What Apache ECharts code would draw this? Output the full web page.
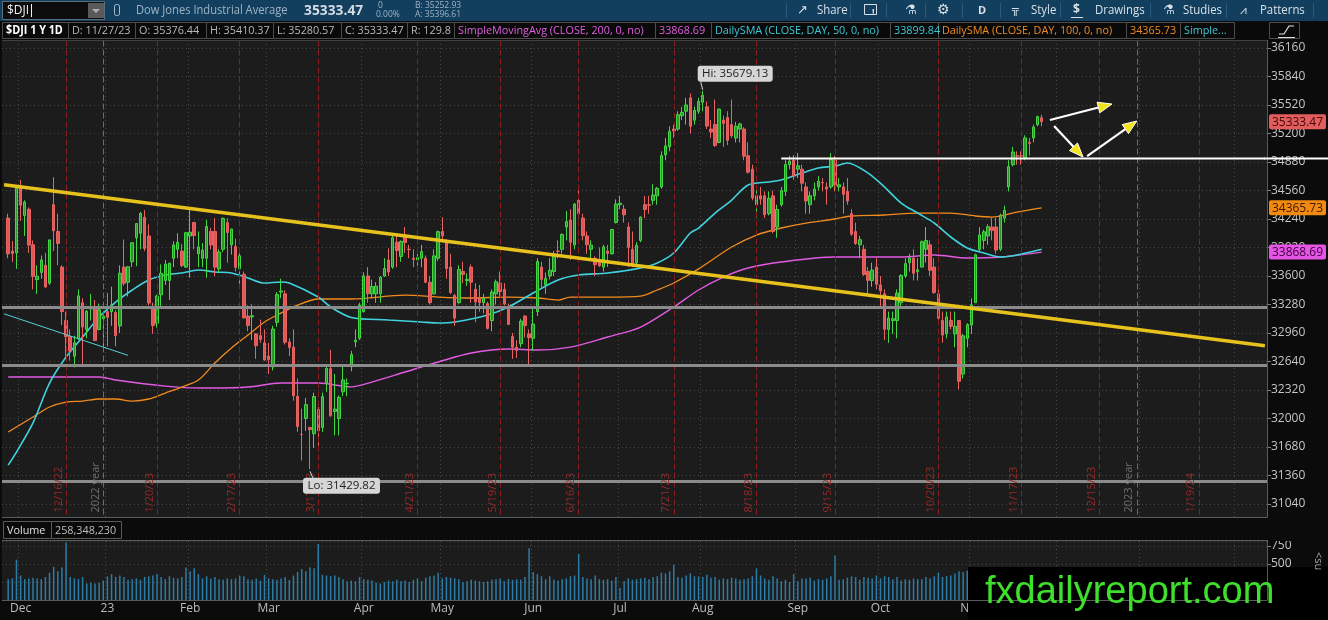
<!DOCTYPE html>
<html>
<head>
<meta charset="utf-8">
<title>$DJI 1 Y 1D</title>
<script src="https://cdn.jsdelivr.net/npm/echarts@6.0.0/dist/echarts.min.js"></script>
<style>
  html, body { margin: 0; padding: 0; background: #0b0b0b; }
  #c1 { width: 1328px; height: 620px; }
</style>
</head>
<body>
<div id="c1"></div>
<script>
var chartDom = document.getElementById("c1");
var myChart = echarts.init(chartDom);

// daily bars: date, open, high, low, close
var candles = [
  ["2022-11-28", 34250, 34300, 33800, 33849], ["2022-11-29", 33880, 33990, 33760, 33853], ["2022-11-30", 33860, 34595, 33680, 34590],
  ["2022-12-01", 34600, 34680, 34220, 34395], ["2022-12-02", 34280, 34450, 34050, 34430], ["2022-12-05", 34350, 34370, 33860, 33947],
  ["2022-12-06", 33950, 34000, 33450, 33597], ["2022-12-07", 33560, 33720, 33400, 33598], ["2022-12-08", 33640, 33830, 33570, 33781],
  ["2022-12-09", 33720, 33860, 33470, 33476], ["2022-12-12", 33520, 34010, 33500, 34005], ["2022-12-13", 34400, 34710, 33880, 34108],
  ["2022-12-14", 34100, 34300, 33720, 33966], ["2022-12-15", 33700, 33720, 33050, 33202], ["2022-12-16", 33100, 33200, 32700, 32920],
  ["2022-12-19", 32920, 33000, 32650, 32757], ["2022-12-20", 32700, 32930, 32573, 32850], ["2022-12-21", 32900, 33450, 32880, 33377],
  ["2022-12-22", 33300, 33350, 32580, 33027], ["2022-12-23", 33000, 33220, 32900, 33204], ["2022-12-27", 33230, 33400, 33100, 33241],
  ["2022-12-28", 33250, 33330, 32870, 32875], ["2022-12-29", 33000, 33290, 32990, 33221], ["2022-12-30", 33120, 33150, 32810, 33147],
  ["2023-01-03", 33200, 33410, 32810, 33136], ["2023-01-04", 33200, 33480, 33040, 33270], ["2023-01-05", 33190, 33220, 32810, 32930],
  ["2023-01-06", 33040, 33720, 32960, 33631], ["2023-01-09", 33700, 34010, 33490, 33518], ["2023-01-10", 33530, 33710, 33370, 33704],
  ["2023-01-11", 33760, 33980, 33700, 33973], ["2023-01-12", 34030, 34190, 33710, 34190], ["2023-01-13", 34080, 34320, 33900, 34303],
  ["2023-01-17", 34260, 34340, 33880, 33910], ["2023-01-18", 34050, 34180, 33270, 33297], ["2023-01-19", 33240, 33300, 32950, 33045],
  ["2023-01-20", 33070, 33390, 33020, 33375], ["2023-01-23", 33390, 33730, 33260, 33630], ["2023-01-24", 33550, 33780, 33500, 33734],
  ["2023-01-25", 33550, 33750, 33330, 33744], ["2023-01-26", 33800, 33990, 33700, 33949], ["2023-01-27", 33900, 34080, 33800, 33978],
  ["2023-01-30", 33880, 33960, 33700, 33717], ["2023-01-31", 33700, 34090, 33690, 34086],
  ["2023-02-01", 34050, 34340, 33580, 34092], ["2023-02-02", 34200, 34210, 33900, 34054], ["2023-02-03", 33850, 34100, 33700, 33926],
  ["2023-02-06", 33800, 33970, 33700, 33891], ["2023-02-07", 33800, 34230, 33580, 34156], ["2023-02-08", 34100, 34140, 33900, 33949],
  ["2023-02-09", 34100, 34250, 33600, 33699], ["2023-02-10", 33680, 33900, 33640, 33869], ["2023-02-13", 33900, 34260, 33870, 34246],
  ["2023-02-14", 34200, 34250, 33750, 34089], ["2023-02-15", 33950, 34130, 33840, 34128], ["2023-02-16", 33930, 34020, 33650, 33697],
  ["2023-02-17", 33680, 33860, 33500, 33827], ["2023-02-21", 33620, 33650, 33120, 33130], ["2023-02-22", 33150, 33270, 32980, 33045],
  ["2023-02-23", 33140, 33280, 32880, 33154], ["2023-02-24", 32950, 32960, 32670, 32817], ["2023-02-27", 32930, 33110, 32850, 32889],
  ["2023-02-28", 32850, 33000, 32650, 32657],
  ["2023-03-01", 32700, 32850, 32500, 32662], ["2023-03-02", 32580, 33040, 32540, 33004], ["2023-03-03", 33080, 33420, 33030, 33391],
  ["2023-03-06", 33420, 33570, 33350, 33432], ["2023-03-07", 33400, 33440, 32830, 32856], ["2023-03-08", 32860, 32900, 32700, 32798],
  ["2023-03-09", 32800, 33000, 32200, 32255], ["2023-03-10", 32250, 32450, 31850, 31910], ["2023-03-13", 31820, 32110, 31530, 31820],
  ["2023-03-14", 32000, 32230, 31860, 32155], ["2023-03-15", 31900, 31900, 31429.82, 31875], ["2023-03-16", 31830, 32290, 31670, 32247],
  ["2023-03-17", 32100, 32130, 31650, 31862], ["2023-03-20", 31900, 32290, 31850, 32245], ["2023-03-21", 32400, 32600, 32300, 32561],
  ["2023-03-22", 32560, 32770, 32020, 32030], ["2023-03-23", 32080, 32500, 31810, 32106], ["2023-03-24", 32000, 32260, 31810, 32238],
  ["2023-03-27", 32300, 32600, 32250, 32433], ["2023-03-28", 32390, 32450, 32250, 32395], ["2023-03-29", 32580, 32760, 32530, 32718],
  ["2023-03-30", 32860, 33000, 32800, 32880], ["2023-03-31", 32900, 33300, 32880, 33274],
  ["2023-04-03", 33200, 33640, 33190, 33601], ["2023-04-04", 33600, 33700, 33300, 33402], ["2023-04-05", 33400, 33560, 33350, 33482],
  ["2023-04-06", 33400, 33530, 33300, 33485], ["2023-04-10", 33400, 33600, 33300, 33587], ["2023-04-11", 33600, 33800, 33590, 33684],
  ["2023-04-12", 33780, 33910, 33600, 33646], ["2023-04-13", 33700, 34050, 33680, 34030], ["2023-04-14", 33980, 34080, 33700, 33886],
  ["2023-04-17", 33820, 34000, 33760, 33987], ["2023-04-18", 34050, 34150, 33860, 33976], ["2023-04-19", 33900, 33950, 33800, 33897],
  ["2023-04-20", 33800, 33900, 33700, 33786], ["2023-04-21", 33780, 33850, 33650, 33809], ["2023-04-24", 33800, 33950, 33700, 33875],
  ["2023-04-25", 33800, 33830, 33520, 33531], ["2023-04-26", 33530, 33600, 33280, 33301], ["2023-04-27", 33400, 33900, 33390, 33826],
  ["2023-04-28", 33800, 34110, 33770, 34098],
  ["2023-05-01", 34100, 34260, 33980, 34051], ["2023-05-02", 34000, 34010, 33570, 33684], ["2023-05-03", 33700, 33850, 33400, 33414],
  ["2023-05-04", 33380, 33400, 33040, 33128], ["2023-05-05", 33300, 33720, 33290, 33674], ["2023-05-08", 33650, 33760, 33520, 33619],
  ["2023-05-09", 33550, 33630, 33490, 33562], ["2023-05-10", 33700, 33730, 33300, 33531], ["2023-05-11", 33450, 33520, 33080, 33309],
  ["2023-05-12", 33350, 33500, 33200, 33301], ["2023-05-15", 33300, 33400, 33180, 33349], ["2023-05-16", 33290, 33310, 33000, 33012],
  ["2023-05-17", 33100, 33450, 32980, 33420], ["2023-05-18", 33400, 33560, 33280, 33535], ["2023-05-19", 33520, 33650, 33360, 33427],
  ["2023-05-22", 33450, 33520, 33270, 33286], ["2023-05-23", 33250, 33290, 33050, 33056], ["2023-05-24", 32920, 32960, 32670, 32800],
  ["2023-05-25", 32800, 32880, 32680, 32765], ["2023-05-26", 32840, 33120, 32800, 33093], ["2023-05-30", 33150, 33160, 32910, 33043],
  ["2023-05-31", 32950, 33000, 32590, 32908],
  ["2023-06-01", 32900, 33250, 32760, 33061], ["2023-06-02", 33200, 33800, 33150, 33763], ["2023-06-05", 33700, 33760, 33470, 33563],
  ["2023-06-06", 33500, 33640, 33400, 33573], ["2023-06-07", 33600, 33800, 33560, 33665], ["2023-06-08", 33650, 33880, 33600, 33834],
  ["2023-06-09", 33880, 34000, 33800, 33877], ["2023-06-12", 33900, 34080, 33850, 34066], ["2023-06-13", 34150, 34330, 34000, 34212],
  ["2023-06-14", 34230, 34350, 33780, 33979], ["2023-06-15", 33950, 34420, 33900, 34408], ["2023-06-16", 34450, 34590, 34250, 34299],
  ["2023-06-20", 34250, 34300, 34000, 34053], ["2023-06-21", 34050, 34100, 33850, 33952], ["2023-06-22", 33900, 34000, 33800, 33947],
  ["2023-06-23", 33800, 33820, 33600, 33727], ["2023-06-26", 33750, 33920, 33700, 33714], ["2023-06-27", 33700, 33950, 33650, 33927],
  ["2023-06-28", 33880, 33950, 33700, 33853], ["2023-06-29", 33850, 34130, 33840, 34122], ["2023-06-30", 34200, 34460, 34190, 34408],
  ["2023-07-03", 34400, 34500, 34350, 34418], ["2023-07-05", 34350, 34400, 34200, 34288], ["2023-07-06", 34150, 34200, 33700, 33922],
  ["2023-07-07", 33900, 34100, 33700, 33734], ["2023-07-10", 33750, 33980, 33700, 33945], ["2023-07-11", 34000, 34270, 33980, 34262],
  ["2023-07-12", 34400, 34500, 34250, 34348], ["2023-07-13", 34400, 34500, 34300, 34395], ["2023-07-14", 34450, 34630, 34400, 34509],
  ["2023-07-17", 34500, 34600, 34400, 34585], ["2023-07-18", 34600, 35000, 34580, 34952], ["2023-07-19", 34960, 35150, 34900, 35061],
  ["2023-07-20", 35050, 35280, 35000, 35225], ["2023-07-21", 35250, 35300, 35150, 35228], ["2023-07-24", 35250, 35450, 35230, 35411],
  ["2023-07-25", 35400, 35500, 35350, 35438], ["2023-07-26", 35450, 35600, 35300, 35520], ["2023-07-27", 35600, 35650, 35200, 35282],
  ["2023-07-28", 35350, 35500, 35300, 35459], ["2023-07-31", 35450, 35600, 35420, 35560],
  ["2023-08-01", 35550, 35679.13, 35450, 35630], ["2023-08-02", 35500, 35560, 35250, 35283], ["2023-08-03", 35250, 35350, 35150, 35216],
  ["2023-08-04", 35300, 35580, 35050, 35066], ["2023-08-07", 35100, 35480, 35090, 35474], ["2023-08-08", 35350, 35400, 35050, 35314],
  ["2023-08-09", 35380, 35450, 35070, 35123], ["2023-08-10", 35300, 35580, 35150, 35176], ["2023-08-11", 35150, 35330, 35100, 35281],
  ["2023-08-14", 35250, 35320, 35100, 35308], ["2023-08-15", 35250, 35270, 34900, 34946], ["2023-08-16", 34950, 35100, 34750, 34766],
  ["2023-08-17", 34800, 34850, 34450, 34475], ["2023-08-18", 34400, 34580, 34250, 34501], ["2023-08-21", 34500, 34600, 34400, 34464],
  ["2023-08-22", 34500, 34550, 34250, 34288], ["2023-08-23", 34300, 34550, 34280, 34473], ["2023-08-24", 34500, 34560, 34080, 34100],
  ["2023-08-25", 34150, 34400, 34030, 34347], ["2023-08-28", 34400, 34600, 34380, 34559], ["2023-08-29", 34550, 34900, 34500, 34852],
  ["2023-08-30", 34850, 34950, 34800, 34891], ["2023-08-31", 34900, 34960, 34680, 34722],
  ["2023-09-01", 34800, 34980, 34700, 34838], ["2023-09-05", 34800, 34850, 34550, 34642], ["2023-09-06", 34600, 34650, 34300, 34443],
  ["2023-09-07", 34400, 34550, 34300, 34501], ["2023-09-08", 34500, 34650, 34450, 34577], ["2023-09-11", 34600, 34720, 34560, 34664],
  ["2023-09-12", 34650, 34700, 34550, 34646], ["2023-09-13", 34600, 34650, 34400, 34576], ["2023-09-14", 34600, 34980, 34580, 34907],
  ["2023-09-15", 34900, 34950, 34550, 34618], ["2023-09-18", 34600, 34700, 34550, 34624], ["2023-09-19", 34600, 34650, 34300, 34518],
  ["2023-09-20", 34550, 34700, 34400, 34441], ["2023-09-21", 34300, 34350, 34050, 34070], ["2023-09-22", 34100, 34200, 33950, 33964],
  ["2023-09-25", 33950, 34050, 33800, 34007], ["2023-09-26", 33900, 33950, 33600, 33619], ["2023-09-27", 33650, 33700, 33400, 33551],
  ["2023-09-28", 33550, 33750, 33480, 33667], ["2023-09-29", 33700, 33800, 33450, 33508],
  ["2023-10-02", 33500, 33600, 33250, 33433], ["2023-10-03", 33400, 33450, 32880, 33002], ["2023-10-04", 33000, 33200, 32850, 33129],
  ["2023-10-05", 33100, 33200, 32950, 33120], ["2023-10-06", 33100, 33450, 32900, 33408], ["2023-10-09", 33300, 33620, 33250, 33605],
  ["2023-10-10", 33600, 33800, 33580, 33739], ["2023-10-11", 33750, 33850, 33650, 33804], ["2023-10-12", 33800, 33900, 33550, 33631],
  ["2023-10-13", 33650, 33800, 33550, 33670], ["2023-10-16", 33700, 34000, 33700, 33985], ["2023-10-17", 33900, 34150, 33750, 33998],
  ["2023-10-18", 33950, 34000, 33600, 33665], ["2023-10-19", 33700, 33800, 33400, 33415], ["2023-10-20", 33400, 33450, 33100, 33127],
  ["2023-10-23", 33100, 33200, 32850, 32937], ["2023-10-24", 32950, 33200, 32900, 33141], ["2023-10-25", 33100, 33200, 33000, 33036],
  ["2023-10-26", 32950, 33200, 32800, 33035], ["2023-10-27", 33100, 33100, 32327, 32418], ["2023-10-30", 32500, 32950, 32450, 32929],
  ["2023-10-31", 32900, 33070, 32800, 33053],
  ["2023-11-01", 33050, 33350, 32950, 33275], ["2023-11-02", 33300, 33850, 33300, 33839], ["2023-11-03", 33900, 34150, 33880, 34061],
  ["2023-11-06", 34000, 34120, 33900, 34096], ["2023-11-07", 34050, 34180, 33950, 34153], ["2023-11-08", 34150, 34250, 34000, 34112],
  ["2023-11-09", 34150, 34250, 33850, 33892], ["2023-11-10", 33900, 34300, 33880, 34283], ["2023-11-13", 34250, 34390, 34200, 34337],
  ["2023-11-14", 34600, 34900, 34550, 34828], ["2023-11-15", 34850, 35050, 34830, 34992], ["2023-11-16", 34950, 35000, 34850, 34946],
  ["2023-11-17", 34950, 35000, 34850, 34947], ["2023-11-20", 34930, 35180, 34900, 35151], ["2023-11-21", 35100, 35150, 34950, 35088],
  ["2023-11-22", 35150, 35300, 35100, 35273], ["2023-11-24", 35300, 35400, 35280, 35390], ["2023-11-27", 35376.44, 35410.37, 35280.57, 35333.47]
];

// volume, millions of shares, same order as candles
var volumes = [
  290, 300, 560,
  340, 290, 300, 310, 300, 290, 320, 380, 460, 400, 450, 800, 320, 300, 290, 320, 230, 240, 230, 240, 270,
  330, 360, 320, 340, 320, 280, 290, 300, 280, 320, 330, 340, 360, 320, 290, 330, 310, 300, 320, 450,
  400, 440, 360, 300, 330, 300, 320, 290, 280, 300, 290, 300, 340, 330, 290, 280, 300, 270, 350,
  300, 290, 280, 300, 320, 280, 340, 390, 430, 400, 450, 440, 780, 350, 340, 330, 340, 320, 290, 260, 270, 260, 320,
  290, 280, 270, 240, 230, 250, 270, 260, 280, 260, 270, 250, 280, 300, 260, 310, 330, 340, 380,
  300, 320, 310, 300, 290, 250, 260, 280, 270, 260, 250, 260, 280, 290, 300, 260, 290, 280, 290, 280, 320, 720,
  390, 360, 330, 290, 330, 280, 270, 290, 300, 330, 340, 640, 320, 300, 290, 340, 290, 280, 290, 270, 320,
  170, 260, 300, 280, 290, 300, 310, 290, 320, 330, 380, 370, 400, 490, 320, 310, 340, 370, 330, 330,
  320, 350, 310, 320, 280, 300, 290, 310, 300, 280, 290, 300, 330, 440, 340, 300, 280, 330, 300, 260, 280, 250, 360,
  260, 300, 300, 310, 270, 290, 280, 300, 330, 620, 280, 290, 310, 330, 320, 280, 320, 310, 300, 340,
  300, 330, 320, 290, 320, 270, 290, 280, 300, 290, 290, 320, 300, 330, 380, 320, 330, 340, 370, 400, 390, 410,
  400, 380, 340, 290, 300, 280, 310, 300, 280, 370, 330, 300, 360, 290, 280, 270, 130, 258
];

// empty slots right of the last bar
var futureDays = [
  "2023-11-28", "2023-11-29", "2023-11-30", "2023-12-01", "2023-12-04", "2023-12-05", "2023-12-06", "2023-12-07", "2023-12-08",
  "2023-12-11", "2023-12-12", "2023-12-13", "2023-12-14", "2023-12-15", "2023-12-18", "2023-12-19", "2023-12-20", "2023-12-21",
  "2023-12-22", "2023-12-26", "2023-12-27", "2023-12-28", "2023-12-29", "2024-01-01", "2024-01-02", "2024-01-03", "2024-01-04",
  "2024-01-05", "2024-01-08", "2024-01-09", "2024-01-10", "2024-01-11", "2024-01-12", "2024-01-15", "2024-01-16", "2024-01-17",
  "2024-01-18", "2024-01-19", "2024-01-22", "2024-01-23", "2024-01-24", "2024-01-25", "2024-01-26", "2024-01-29", "2024-01-30",
  "2024-01-31", "2024-02-01", "2024-02-02", "2024-02-05", "2024-02-06", "2024-02-07", "2024-02-08", "2024-02-09", "2024-02-12"
];

// moving averages
var sma200Pts = [
  ["2022-11-28", 32466], ["2022-12-29", 32466], ["2023-01-05", 32432], ["2023-01-24", 32364], ["2023-02-03", 32342],
  ["2023-02-09", 32342], ["2023-02-22", 32353], ["2023-03-06", 32398], ["2023-03-17", 32398], ["2023-03-29", 32355],
  ["2023-04-05", 32409], ["2023-04-18", 32522], ["2023-04-28", 32634], ["2023-05-10", 32735], ["2023-05-23", 32780],
  ["2023-06-02", 32769], ["2023-06-14", 32802], ["2023-06-28", 32915], ["2023-07-11", 33027], ["2023-07-21", 33252],
  ["2023-07-31", 33443], ["2023-08-08", 33588], ["2023-08-16", 33690], ["2023-08-28", 33757], ["2023-09-15", 33813],
  ["2023-09-27", 33813], ["2023-10-09", 33813], ["2023-10-19", 33836], ["2023-10-31", 33802], ["2023-11-10", 33813],
  ["2023-11-27", 33868.69]
];
var sma50Pts = [
  ["2022-11-28", 31477], ["2022-11-30", 31623], ["2022-12-06", 31950], ["2022-12-12", 32398], ["2022-12-16", 32690],
  ["2022-12-22", 32915], ["2022-12-29", 33140], ["2023-01-05", 33308], ["2023-01-11", 33443], ["2023-01-18", 33555],
  ["2023-01-24", 33611], ["2023-01-30", 33634], ["2023-02-03", 33667], ["2023-02-09", 33645], ["2023-02-15", 33634],
  ["2023-02-22", 33578], ["2023-02-28", 33521], ["2023-03-06", 33533], ["2023-03-08", 33521], ["2023-03-17", 33364],
  ["2023-03-22", 33252], ["2023-03-29", 33135], ["2023-04-12", 33106], ["2023-04-24", 33083], ["2023-04-28", 33072],
  ["2023-05-04", 33083], ["2023-05-16", 33162], ["2023-05-23", 33252], ["2023-06-01", 33409], ["2023-06-09", 33555],
  ["2023-06-16", 33611], ["2023-06-28", 33634], ["2023-07-11", 33690], ["2023-07-17", 33746], ["2023-07-21", 33858],
  ["2023-07-27", 34083], ["2023-07-31", 34139], ["2023-08-04", 34307], ["2023-08-10", 34453], ["2023-08-16", 34622],
  ["2023-08-23", 34656], ["2023-08-28", 34678], ["2023-09-05", 34756], ["2023-09-11", 34812], ["2023-09-15", 34835],
  ["2023-09-20", 34869], ["2023-09-27", 34756], ["2023-10-03", 34599], ["2023-10-09", 34419], ["2023-10-13", 34307],
  ["2023-10-19", 34195], ["2023-10-25", 34038], ["2023-10-31", 33914], ["2023-11-06", 33858], ["2023-11-10", 33813],
  ["2023-11-16", 33836], ["2023-11-27", 33899.84]
];
var sma100Pts = [
  ["2022-11-28", 31848], ["2022-12-06", 32017], ["2022-12-12", 32129], ["2022-12-16", 32185], ["2022-12-22", 32196],
  ["2022-12-29", 32219], ["2023-01-05", 32219], ["2023-01-11", 32196], ["2023-01-18", 32219], ["2023-01-24", 32286],
  ["2023-01-30", 32353], ["2023-02-03", 32432], ["2023-02-09", 32623], ["2023-02-15", 32791], ["2023-02-22", 32937],
  ["2023-02-28", 33083], ["2023-03-06", 33184], ["2023-03-10", 33274], ["2023-03-17", 33342], ["2023-03-29", 33342],
  ["2023-04-18", 33386], ["2023-04-28", 33364], ["2023-05-10", 33353], ["2023-05-23", 33364], ["2023-06-02", 33353],
  ["2023-06-09", 33330], ["2023-06-14", 33364], ["2023-06-28", 33364], ["2023-07-11", 33375], ["2023-07-17", 33443],
  ["2023-07-21", 33521], ["2023-07-31", 33680], ["2023-08-10", 33925], ["2023-08-18", 34060], ["2023-08-28", 34139],
  ["2023-09-06", 34195], ["2023-09-15", 34240], ["2023-09-21", 34274], ["2023-10-03", 34285], ["2023-10-13", 34307],
  ["2023-10-25", 34307], ["2023-11-02", 34274], ["2023-11-08", 34262], ["2023-11-16", 34318], ["2023-11-27", 34365.73]
];

// drawings on the chart
var expiryDays = ["2022-12-16", "2023-01-20", "2023-02-17", "2023-03-17", "2023-04-21", "2023-05-19", "2023-06-16",
  "2023-07-21", "2023-08-18", "2023-09-15", "2023-10-20", "2023-11-17", "2023-12-15", "2024-01-19"];
var yearMarks = [["2022-12-30", "2022 year"], ["2023-12-29", "2023 year"]];
var levelPrices = [33250, 32595, 31292];
var resistance = [["2023-08-28", 34920], ["2024-02-12", 34920]];
var yellowTrend = [["2022-11-25", 34624], ["2024-02-12", 32816]];
var cyanTrend = [["2022-11-25", 33175], ["2023-01-10", 32709]];
var arrows = [
  [["2023-11-29", 35352], ["2023-12-20", 35531]],
  [["2023-11-30", 35284], ["2023-12-11", 34936]],
  [["2023-12-12", 34947], ["2023-12-29", 35340]]
];
var hiMark = ["2023-08-01", 35679.13];
var loMark = ["2023-03-15", 31429.82];
var tagValues = [35333.47, 34365.73, 33868.69];

// header texts
var symbolName = "$DJI";
var quoteTop = ["Dow Jones Industrial Average", "35333.47", "0", "0.00%", "B: 35252.93", "A: 35396.61"];
var quoteCells = ["$DJI 1 Y 1D", "D: 11/27/23", "O: 35376.44", "H: 35410.37", "L: 35280.57", "C: 35333.47", "R: 129.8",
  "SimpleMovingAvg (CLOSE, 200, 0, no)", "33868.69", "DailySMA (CLOSE, DAY, 50, 0, no)", "33899.84",
  "DailySMA (CLOSE, DAY, 100, 0, no)", "34365.73", "Simple..."];
var toolItems = ["Share", "D", "Style", "Drawings", "Studies", "Patterns"];
var volumeHead = ["Volume", "258,348,230"];
var watermark = "fxdailyreport.com";

var categories = ["2022-11-25"].concat(candles.map(function (r) { return r[0]; }), futureDays);
function idx(d) { return categories.indexOf(d); }
var monthNames = ["Jan", "Feb", "Mar", "Apr", "May", "Jun", "Jul", "Aug", "Sep", "Oct", "Nov", "Dec"];
var monthStart = categories.map(function (d, i) {
  return i > 0 && d.slice(5, 7) !== categories[i - 1].slice(5, 7);
});
function monthLabel(d) {
  var m = +d.slice(5, 7);
  return m === 1 ? d.slice(2, 4) : monthNames[m - 1];
}
function shortDate(d) { return +d.slice(5, 7) + "/" + +d.slice(8, 10) + "/" + d.slice(2, 4); }
function pts(list) { return list.map(function (p) { return [idx(p[0]), p[1]]; }); }

var candleData = candles.map(function (r) { return [idx(r[0]), r[1], r[4], r[3], r[2]]; });
var volumeData = candles.map(function (r, i) { return [idx(r[0]), volumes[i]]; });

var FONT = '"Open Sans", sans-serif';
var dotted = { color: "#474747", type: [1, 3], width: 1 };

var refLines = expiryDays.map(function (d) {
  return {
    xAxis: idx(d),
    lineStyle: { color: "#8a1d1d", type: [6, 3], width: 1 },
    label: { show: true, position: "insideStartTop", distance: [20, 2], formatter: shortDate(d),
      color: "#9a2828", fontSize: 11, fontFamily: FONT },
  };
}).concat(yearMarks.map(function (y) {
  return {
    xAxis: idx(y[0]),
    lineStyle: { color: "#6c6c6c", type: [6, 3], width: 1 },
    label: { show: true, position: "insideStartTop", distance: [20, 2], formatter: y[1],
      color: "#6f6f6f", fontSize: 11, fontFamily: FONT },
  };
}));

var levelLines = levelPrices.map(function (p) {
  return { yAxis: p, lineStyle: { color: "#8b8b8b", width: 3, type: "solid" }, label: { show: false } };
});

function xAxisFor(grid, showLabel) {
  return {
    type: "category", gridIndex: grid, data: categories, boundaryGap: true,
    axisLine: { show: false }, axisTick: { show: false },
    axisLabel: {
      show: showLabel, interval: function (i) { return monthStart[i]; },
      formatter: function (v) { return monthLabel(v); },
      color: "#bdbdbd", fontSize: 12, fontFamily: FONT, margin: 3,
    },
    splitLine: { show: true, interval: function (i) { return monthStart[i]; }, lineStyle: dotted },
  };
}

function plain(v) { return String(v); }

var option = {
  backgroundColor: "#0b0b0b",
  animation: false,
  grid: [
    { left: 2, top: 40, width: 1265, height: 492.5, show: true, backgroundColor: "#1c1c1c", borderWidth: 0 },
    { left: 2, top: 541, width: 1265, height: 59, show: true, backgroundColor: "#1c1c1c", borderWidth: 0 },
  ],
  xAxis: [xAxisFor(0, false), xAxisFor(1, true)],
  yAxis: [
    {
      type: "value", gridIndex: 0, position: "right", min: 30720, max: 36250, interval: 320,
      axisLine: { show: true, lineStyle: { color: "#5a5a5a" } },
      axisTick: { show: true, length: 4, lineStyle: { color: "#808080" } },
      axisLabel: { color: "#c6c6c6", fontSize: 12, fontFamily: FONT, margin: 4, formatter: plain,
        showMaxLabel: false, showMinLabel: false },
      splitLine: { show: true, lineStyle: dotted },
    },
    {
      type: "value", gridIndex: 1, position: "right", min: 0, max: 820, interval: 250,
      axisLine: { show: true, lineStyle: { color: "#5a5a5a" } },
      axisTick: { show: true, length: 4, lineStyle: { color: "#808080" } },
      axisLabel: { color: "#c6c6c6", fontSize: 12, fontFamily: FONT, margin: 4, formatter: plain,
        showMaxLabel: false, showMinLabel: false },
      splitLine: { show: true, lineStyle: dotted },
    },
  ],
  series: [
    {
      name: "refs", type: "line", xAxisIndex: 0, yAxisIndex: 0, data: [], z: 1, silent: true,
      markLine: { silent: true, symbol: ["none", "none"], animation: false, data: refLines },
    },
    {
      name: "SimpleMovingAvg 200", type: "line", xAxisIndex: 0, yAxisIndex: 0, data: pts(sma200Pts),
      smooth: 0.3, showSymbol: false, lineStyle: { color: "#e35ae3", width: 1.4 }, z: 2,
    },
    {
      name: "DailySMA 100", type: "line", xAxisIndex: 0, yAxisIndex: 0, data: pts(sma100Pts),
      smooth: 0.3, showSymbol: false, lineStyle: { color: "#f28b1e", width: 1.3 }, z: 2,
    },
    {
      name: "DailySMA 50", type: "line", xAxisIndex: 0, yAxisIndex: 0, data: pts(sma50Pts),
      smooth: 0.3, showSymbol: false, lineStyle: { color: "#3fd3de", width: 1.6 }, z: 2,
    },
    {
      name: "$DJI", type: "candlestick", xAxisIndex: 0, yAxisIndex: 0, data: candleData,
      encode: { x: 0, y: [1, 2, 3, 4] }, barWidth: 3, z: 3,
      itemStyle: { color: "#2c962c", borderColor: "#43d843", color0: "#e25656", borderColor0: "#ea6363", borderWidth: 1 },
    },
    {
      name: "levels", type: "line", xAxisIndex: 0, yAxisIndex: 0, data: [], z: 4, silent: true,
      markLine: { silent: true, symbol: ["none", "none"], animation: false, data: levelLines },
    },
    {
      name: "trend", type: "line", xAxisIndex: 0, yAxisIndex: 0, data: pts(yellowTrend),
      showSymbol: false, lineStyle: { color: "#e8c21c", width: 3.5 }, z: 5,
    },
    {
      name: "trend2", type: "line", xAxisIndex: 0, yAxisIndex: 0, data: pts(cyanTrend),
      showSymbol: false, lineStyle: { color: "#56cfd8", width: 1 }, z: 5,
    },
    {
      name: "resistance", type: "line", xAxisIndex: 0, yAxisIndex: 0, data: pts(resistance),
      showSymbol: false, lineStyle: { color: "#ffffff", width: 2 }, z: 5,
    },
    {
      name: "Volume", type: "bar", xAxisIndex: 1, yAxisIndex: 1, data: volumeData,
      barWidth: 1.5, itemStyle: { color: "#2b7ca6" }, z: 2,
    },
  ],
};
myChart.setOption(option);

// overlay: header, panel frames, arrows, tags
function px(p) { return myChart.convertToPixel({ gridIndex: 0 }, [idx(p[0]), p[1]]); }
function py(v) { return myChart.convertToPixel({ yAxisIndex: 0 }, v); }
function rect(x, y, w, h, fill, stroke, r) {
  return { type: "rect", z: 100, shape: { x: x, y: y, width: w, height: h, r: r || 0 },
    style: { fill: fill, stroke: stroke || null, lineWidth: 1 } };
}
function txt(x, y, s, color, size, opts) {
  opts = opts || {};
  return { type: "text", z: 102, x: x, y: y, scaleX: opts.sx || 1, rotation: opts.rot || 0,
    style: { x: 0, y: 0, text: s, fill: color, font: (opts.bold ? "bold " : "") + size + "px " + (opts.family || FONT),
      align: opts.align || "left", verticalAlign: "middle" } };
}
function seg(x1, y1, x2, y2, color, w) {
  return { type: "line", z: 101, shape: { x1: x1, y1: y1, x2: x2, y2: y2 }, style: { stroke: color, lineWidth: w || 1 } };
}

var g = [];
// cover between panes
g.push(rect(0, 517.5, 1328, 23.5, "#0b0b0b"));
// pane frames
g.push(seg(2, 40.5, 1267, 40.5, "#3f3f3f"));
g.push(seg(1267.5, 40, 1267.5, 517, "#5a5a5a"));
g.push(seg(2, 517.5, 1267.5, 517.5, "#5a5a5a"));
g.push(seg(2, 540.5, 1267.5, 540.5, "#5a5a5a"));
g.push(seg(1267.5, 540, 1267.5, 600, "#5a5a5a"));
g.push(seg(2, 600.5, 1267.5, 600.5, "#5a5a5a"));

// top toolbar
g.push(rect(0, 0, 1328, 21, "#123f5e"));
g.push(rect(2.5, 1.5, 102, 18, "#0c0c0c", "#5d6f7e"));
g.push(txt(7, 11, symbolName, "#f2f2f2", 12));
g.push(seg(31.5, 4, 31.5, 17, "#f2f2f2"));
g.push(rect(88, 3, 16, 15, "#5a5a5a"));
g.push({ type: "polygon", z: 102, shape: { points: [[92, 9], [100, 9], [96, 13]] }, style: { fill: "#b0b0b0" } });
g.push(rect(114.5, 4.5, 5, 11, null, "#a9bccb", 2));
g.push(txt(136, 10.5, quoteTop[0], "#9fb3c4", 12, { sx: 0.93 }));
g.push(txt(304, 10.5, quoteTop[1], "#d3dbe3", 15, { bold: true, sx: 0.92 }));
g.push(txt(378, 6, quoteTop[2], "#9fb3c4", 8.5));
g.push(txt(376, 15, quoteTop[3], "#9fb3c4", 8.5));
g.push(txt(415, 6, quoteTop[4], "#9fb3c4", 8.5));
g.push(txt(415, 15, quoteTop[5], "#9fb3c4", 8.5));
[786, 850, 886, 925, 962, 1000, 1060, 1150, 1226, 1313].forEach(function (x) {
  g.push(seg(x + 0.5, 3, x + 0.5, 18, "#2b5a7e"));
});
g.push(txt(797, 10.5, "\u2197", "#d8e0e8", 13, { family: "DejaVu Sans" }));
g.push(txt(817, 10.5, toolItems[0], "#d8e0e8", 12, { sx: 0.95 }));
g.push(rect(864.5, 4.5, 12, 10, null, "#d8e0e8"));
g.push(txt(872, 12, "!", "#d8e0e8", 9, { bold: true }));
g.push(txt(905, 10.5, "\u2697", "#d8e0e8", 13, { family: "DejaVu Sans" }));
g.push(txt(937, 10.5, "\u2699", "#d8e0e8", 14, { family: "DejaVu Sans" }));
g.push(txt(978, 10.5, toolItems[1], "#d8e0e8", 11, { bold: true }));
g.push(txt(1012, 10.5, "\u2566", "#d8e0e8", 11, { family: "DejaVu Sans" }));
g.push(txt(1031, 10.5, toolItems[2], "#d8e0e8", 12, { sx: 0.95 }));
g.push(txt(1073, 9.5, "$", "#d8e0e8", 12, { bold: true }));
g.push(seg(1071, 17.5, 1083, 17.5, "#d8e0e8"));
g.push(txt(1095, 10.5, toolItems[3], "#d8e0e8", 12, { sx: 0.95 }));
g.push(txt(1163, 10.5, "\u2697", "#d8e0e8", 13, { family: "DejaVu Sans" }));
g.push(txt(1183, 10.5, toolItems[4], "#d8e0e8", 12, { sx: 0.95 }));
g.push(txt(1240, 10.5, "\u2A58", "#d8e0e8", 12, { family: "DejaVu Sans" }));
g.push(txt(1260, 10.5, toolItems[5], "#d8e0e8", 12, { sx: 0.95 }));

// study header row
g.push(rect(0, 21, 1328, 19, "#0a0a0a"));
var cellEdges = [2, 68, 135, 206, 273, 341, 407, 454, 655, 711, 890, 938, 1126, 1180, 1234];
var cellColors = ["#ffffff", "#b8b8b8", "#b8b8b8", "#b8b8b8", "#b8b8b8", "#b8b8b8", "#b8b8b8",
  "#e05ee0", "#e05ee0", "#3cc9d6", "#3cc9d6", "#f08a24", "#f08a24", "#3cc9d6"];
quoteCells.forEach(function (s, i) {
  var x0 = cellEdges[i], x1 = cellEdges[i + 1];
  g.push(rect(x0 + 0.5, 22.5, x1 - x0, 16, "#0a0a0a", "#4d4d4d"));
  g.push(txt(x0 + 4, 31, s, cellColors[i], 11.5, { bold: i === 0, sx: 0.94 }));
});
g.push(rect(1269.5, 22.5, 30, 16, "#0a0a0a", "#4d4d4d"));
g.push({ type: "polyline", z: 102, shape: { points: [[1279, 34], [1284, 34], [1289, 26], [1294, 26]] },
  style: { stroke: "#e0e0e0", lineWidth: 1.2, fill: null } });
g.push(seg(1278, 37.5, 1295, 37.5, "#e0e0e0"));

// volume header
g.push(rect(3.5, 521.5, 48, 17, "#0a0a0a", "#5a5a5a"));
g.push(txt(7, 530.5, volumeHead[0], "#e0e0e0", 11.5, { sx: 0.94 }));
g.push(rect(51.5, 521.5, 70, 17, "#0a0a0a", "#5a5a5a"));
g.push(txt(55, 530.5, volumeHead[1], "#bdbdbd", 11.5, { sx: 0.94 }));
g.push(txt(1318, 552, "<su", "#a8a8a8", 11, { rot: -Math.PI / 2 }));

// white line running over the price scale
var ry = py(resistance[0][1]);
g.push(seg(1264, ry, 1328, ry, "#ffffff", 2));

// arrows
arrows.forEach(function (a) {
  var s = px(a[0]), t = px(a[1]);
  var dx = t[0] - s[0], dy = t[1] - s[1], len = Math.sqrt(dx * dx + dy * dy);
  var ux = dx / len, uy = dy / len, bx = t[0] - ux * 14, by = t[1] - uy * 14;
  g.push(seg(s[0], s[1], bx, by, "#ffffff", 2.2));
  g.push({ type: "polygon", z: 103, shape: { points: [[t[0], t[1]], [bx - uy * 5.5, by + ux * 5.5], [bx + uy * 5.5, by - ux * 5.5]] },
    style: { fill: "#f3e31a", stroke: "#ffffff", lineWidth: 1 } });
});

// Hi / Lo bubbles
var hp = px(hiMark);
g.push(seg(hp[0], hp[1] - 1, hp[0] - 2, hp[1] - 9, "#d0d0d0", 1));
g.push(rect(hp[0] - 5, hp[1] - 25, 75, 16, "#d6d6d6", null, 3));
g.push(txt(hp[0] + 32.5, hp[1] - 17, "Hi: " + hiMark[1].toFixed(2), "#222222", 11.5, { align: "center" }));
var lp = px(loMark);
g.push(seg(lp[0], lp[1] + 2, lp[0] + 3, lp[1] + 9, "#d0d0d0", 1));
g.push(rect(lp[0] - 7, lp[1] + 8.5, 77, 16, "#d6d6d6", null, 3));
g.push(txt(lp[0] + 31.5, lp[1] + 16.5, "Lo: " + loMark[1].toFixed(2), "#222222", 11.5, { align: "center" }));

// price tags on the scale
var tagFill = ["#e35d5d", "#f28a12", "#e655e6"];
var tagInk = ["#400808", "#3d1a00", "#3a003a"];
tagValues.forEach(function (v, i) {
  var y = py(v);
  g.push(rect(1269, y - 7.5, 57, 15, tagFill[i], null, 2));
  g.push(txt(1297.5, y + 0.5, v.toFixed(2), tagInk[i], 12, { align: "center" }));
});

// watermark
g.push(rect(968, 567, 360, 53, "#000000"));
g.push(txt(985, 593, watermark, "#3ee02c", 38, { family: '"Liberation Sans", Arial, sans-serif' }));

myChart.setOption({ graphic: g });
</script>
</body>
</html>
